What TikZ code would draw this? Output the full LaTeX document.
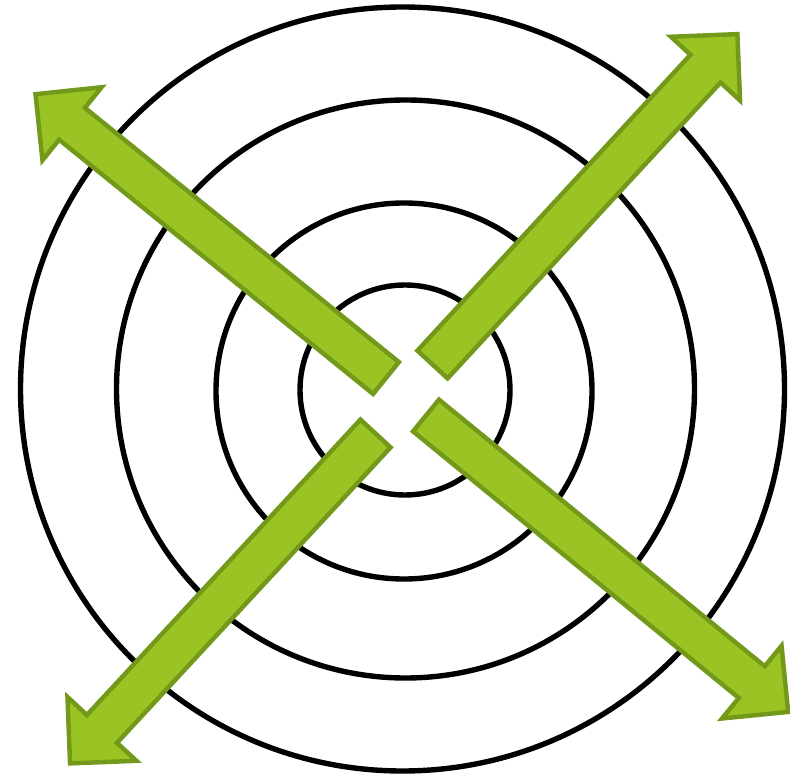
\documentclass[tikz,border=0pt]{standalone}
\usepackage{xcolor}
\usepackage{tikz}
\definecolor{leaf}{RGB}{153,196,36}
\definecolor{leafdark}{RGB}{114,153,26}

\begin{document}
\begin{tikzpicture}[x=0.03cm,y=0.03cm]
\pgfmathsetmacro{\sw}{20.5}
\pgfmathsetmacro{\hw}{47}
\useasboundingbox (0,0) rectangle (790,777);

\tikzset{ring/.style={line width=4.6pt,black},
blockarrow/.style={fill=leaf,draw=leafdark,line width=3.8pt,line join=miter}}

% target rings
\foreach \cx/\cy/\r in {402.5/388/382, 405.5/388/289, 404/386/188, 405/387/105} {
\draw[ring] (\cx,\cy) circle (\r);
}

\def\shaft#1{%
(0,-\sw)--(#1,-\sw)--(#1,-\hw)--(#1+\hw,0)--(#1,\hw)--(#1,\sw)--(0,\sw)--cycle}

% outward arrows
\foreach \tx/\ty/\a/\l in {386/399/141/404, 432.5/412.5/47.3/402.6, 375.5/343.5/227.2/402.6, 426/361.5/-39.3/421} {
\begin{scope}[shift={(\tx,\ty)},rotate=\a]
\draw[blockarrow] \shaft{\l};
\end{scope}
}
\end{tikzpicture}
\end{document}
